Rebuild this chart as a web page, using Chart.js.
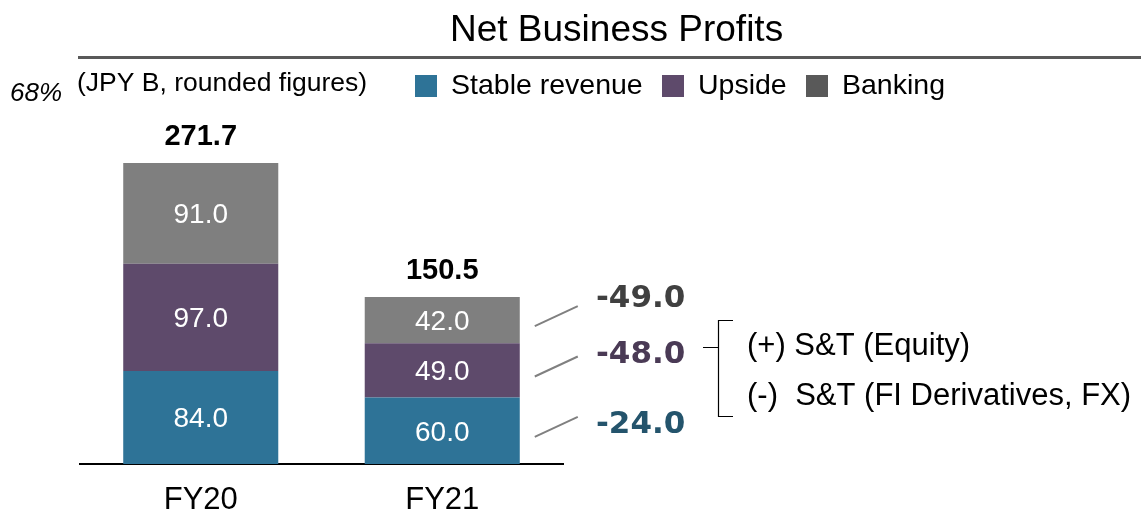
<!DOCTYPE html>
<html>
<head>
<meta charset="utf-8">
<script src="https://cdn.jsdelivr.net/npm/chart.js@4/dist/chart.umd.min.js"></script>
<style>
  html, body { margin: 0; padding: 0; background: #fff; }
  #wrap { width: 1141px; height: 512px; position: relative; }
</style>
</head>
<body>
<div id="wrap"><canvas id="profits-chart"></canvas></div>
<script>
// data
const years = ['FY20', 'FY21'];
const stable = [84.0, 60.0];
const upside = [97.0, 49.0];
const banking = [91.0, 42.0];
const totals = ['271.7', '150.5'];
const changes = ['-49.0', '-48.0', '-24.0']; // banking, upside, stable
const notes = ['(+) S&T (Equity)', '(-)  S&T (FI Derivatives, FX)'];

const colStable = '#2e7397', colUpside = '#5e4a6b', colBanking = '#7f7f7f';
const sans = "'Liberation Sans', Arial, sans-serif";

let ctx = document.getElementById('profits-chart');

const extras = {
  id: 'extras',
  afterDatasetsDraw(chart) {
    const c = chart.ctx;
    c.save();
    // header
    c.fillStyle = '#000';
    c.font = '37px ' + sans;
    c.textAlign = 'left';
    c.textBaseline = 'middle';
    c.fillText('Net Business Profits', 450, 31);
    c.strokeStyle = '#595959';
    c.lineWidth = 3;
    c.beginPath(); c.moveTo(78, 57.5); c.lineTo(1141, 57.5); c.stroke();

    c.font = 'italic 26px ' + sans;
    c.fillText('68%', 10, 94);
    c.font = '26.5px ' + sans;
    c.fillText('(JPY B, rounded figures)', 77, 84);

    // legend
    const leg = [[415, colStable, 'Stable revenue'], [662, colUpside, 'Upside'], [806, '#595959', 'Banking']];
    c.font = '28.5px ' + sans;
    leg.forEach(([x, col, txt]) => {
      c.fillStyle = col;
      c.fillRect(x, 75, 22, 22);
      c.fillStyle = '#000';
      c.fillText(txt, x + 36, 86);
    });

    // segment values and totals
    chart.data.datasets.forEach((ds, di) => {
      const meta = chart.getDatasetMeta(di);
      meta.data.forEach((bar, i) => {
        c.fillStyle = '#fff';
        c.font = '28px ' + sans;
        c.textAlign = 'center';
        c.fillText(ds.data[i].toFixed(1), bar.x, (bar.y + bar.base) / 2 + 2);
      });
    });
    const top = chart.getDatasetMeta(2);
    top.data.forEach((bar, i) => {
      c.fillStyle = '#000';
      c.font = 'bold 29px ' + sans;
      c.textAlign = 'center';
      c.fillText(totals[i], bar.x, bar.y - 26);
    });

    // change callouts on FY21
    const chCols = ['#404040', '#4a3a55', '#24546c'];
    const metas = [chart.getDatasetMeta(2), chart.getDatasetMeta(1), chart.getDatasetMeta(0)];
    const textY = [299, 355, 425];
    metas.forEach((m, k) => {
      const bar = m.data[1];
      const right = bar.x + bar.width / 2;
      const mid = (bar.y + bar.base) / 2 + 6;
      c.strokeStyle = '#808080';
      c.lineWidth = 2;
      c.beginPath(); c.moveTo(right + 15, mid); c.lineTo(right + 58, mid - 20); c.stroke();
      c.fillStyle = chCols[k];
      c.font = "bold 31px 'DejaVu Sans', Verdana, sans-serif";
      c.textAlign = 'left';
      c.fillText(changes[k], 596, textY[k]);
    });

    // bracket with notes
    c.strokeStyle = '#000';
    c.lineWidth = 1.2;
    c.beginPath();
    c.moveTo(733, 320.5); c.lineTo(718.5, 320.5); c.lineTo(718.5, 416.5); c.lineTo(733, 416.5);
    c.moveTo(703, 347.5); c.lineTo(718.5, 347.5);
    c.stroke();
    c.fillStyle = '#000';
    c.font = '31px ' + sans;
    c.fillText(notes[0], 747, 346);
    c.fillText(notes[1], 747, 396);
    c.restore();
  }
};

let myChart = new Chart(ctx, {
  type: 'bar',
  data: {
    labels: years,
    datasets: [
      { label: 'Stable revenue', data: stable, backgroundColor: colStable },
      { label: 'Upside', data: upside, backgroundColor: colUpside },
      { label: 'Banking', data: banking, backgroundColor: colBanking }
    ]
  },
  options: {
    responsive: true,
    maintainAspectRatio: false,
    animation: false,
    layout: { padding: { left: 80, right: 578, top: 132, bottom: 0 } },
    datasets: { bar: { barPercentage: 1, categoryPercentage: 0.642, borderWidth: 0 } },
    plugins: { legend: { display: false }, tooltip: { enabled: false } },
    scales: {
      x: {
        stacked: true,
        grid: { display: false },
        border: { display: true, color: '#000', width: 2 },
        ticks: { color: '#000', font: { size: 31, family: sans }, padding: 10 },
        afterFit(scale) { scale.height = 48; }
      },
      y: {
        stacked: true,
        display: false,
        min: 0,
        max: 300
      }
    }
  },
  plugins: [extras]
});
</script>
</body>
</html>
